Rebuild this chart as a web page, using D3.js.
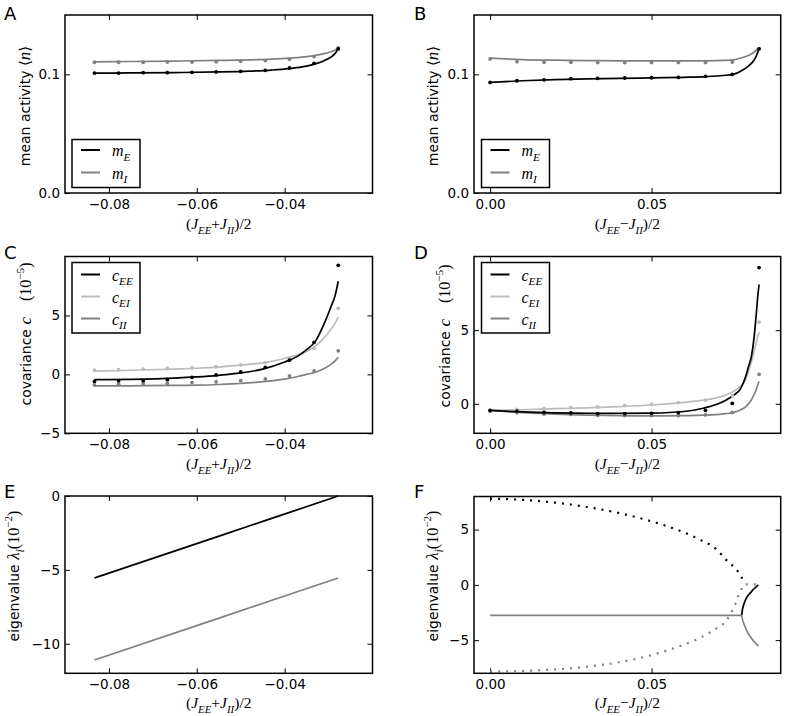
<!DOCTYPE html>
<html><head><meta charset="utf-8">
<script src="https://cdn.jsdelivr.net/npm/d3@7"></script>
<style>body{margin:0;background:#fff}</style>
</head><body><svg id="chart" width="786" height="716"></svg>
<script>
// ---------------- DATA ----------------
// Panel A (x = (J_EE+J_II)/2)
const A_simX = [-0.0833,-0.0778,-0.0722,-0.0667,-0.0611,-0.0556,-0.0500,-0.0444,-0.0389,-0.0333,-0.0278];
const A_mE_sim = [0.1011,0.1011,0.1014,0.1014,0.1017,0.1020,0.1025,0.1034,0.1054,0.1093,0.1215];
const A_mI_sim = [0.1102,0.1102,0.1102,0.1104,0.1104,0.1107,0.1110,0.1116,0.1127,0.1150,0.1222];
const A_thX = [-0.0833,-0.075,-0.065,-0.055,-0.048,-0.043,-0.039,-0.036,-0.033,-0.031,-0.0295,-0.0285,-0.0278];
const A_mE_th = [0.1010,0.1012,0.1015,0.1020,0.1027,0.1036,0.1048,0.1063,0.1088,0.1115,0.1145,0.1175,0.1218];
const A_mI_th = [0.1105,0.1108,0.1112,0.1117,0.1122,0.1128,0.1136,0.1145,0.1160,0.1174,0.1190,0.1205,0.1222];

// Panel B (x = (J_EE-J_II)/2)
const B_simX = [0,0.0083,0.0167,0.025,0.0333,0.0417,0.05,0.0583,0.0667,0.075,0.0833];
const B_mE_sim = [0.0932,0.0946,0.0954,0.0963,0.0966,0.0969,0.0971,0.0974,0.0983,0.1000,0.1215];
const B_mI_sim = [0.1130,0.1107,0.1102,0.1102,0.1099,0.1099,0.1099,0.1099,0.1099,0.1104,0.1215];
const B_thX = [0,0.01,0.02,0.03,0.04,0.05,0.06,0.067,0.072,0.0755,0.078,0.08,0.0815,0.0825,0.0833];
const B_mE_th = [0.0932,0.0946,0.0956,0.0962,0.0966,0.0970,0.0975,0.0981,0.0990,0.1002,0.1033,0.1070,0.1110,0.1158,0.1220];
const B_mI_th = [0.1136,0.1124,0.1119,0.1116,0.1114,0.1113,0.1113,0.1114,0.1117,0.1122,0.1140,0.1158,0.1182,0.1205,0.1222];

// Panel C (covariances, 1e-5)
const C_thX = [-0.0833,-0.075,-0.065,-0.06,-0.055,-0.05,-0.045,-0.04,-0.037,-0.035,-0.033,-0.031,-0.0295,-0.0285,-0.0278];
const C_cEE_th = [-0.45,-0.42,-0.32,-0.22,-0.08,0.12,0.45,1.05,1.55,2.1,2.8,4.3,5.7,6.7,7.9];
const C_cEI_th = [0.28,0.35,0.45,0.52,0.62,0.78,0.98,1.35,1.65,1.95,2.4,3.1,3.8,4.35,4.85];
const C_cII_th = [-0.98,-0.97,-0.94,-0.92,-0.86,-0.77,-0.62,-0.40,-0.18,0.0,0.18,0.5,0.85,1.15,1.45];
const C_cEE_sim = [-0.6,-0.55,-0.55,-0.45,-0.25,-0.05,0.2,0.6,1.2,2.72,9.25];
const C_cEI_sim = [0.35,0.4,0.45,0.5,0.55,0.65,0.8,1.0,1.4,2.2,5.6];
const C_cII_sim = [-0.9,-0.84,-0.8,-0.76,-0.7,-0.64,-0.53,-0.39,-0.14,0.29,2.0];

// Panel D
const D_thX = [0,0.01,0.02,0.03,0.04,0.05,0.06,0.066,0.07,0.073,0.0755,0.0775,0.079,0.08,0.081,0.0818,0.0824,0.0829,0.0833];
const D_cEE_th = [-0.45,-0.55,-0.61,-0.64,-0.65,-0.63,-0.52,-0.3,-0.05,0.25,0.6,1.0,1.75,2.5,3.3,4.6,6.0,7.3,8.1];
const D_cEI_th = [-0.45,-0.4,-0.33,-0.27,-0.19,-0.08,0.1,0.25,0.4,0.6,0.85,1.2,1.6,2.2,2.9,3.6,4.1,4.6,4.85];
const D_cII_th = [-0.45,-0.6,-0.7,-0.77,-0.81,-0.82,-0.8,-0.77,-0.73,-0.67,-0.58,-0.42,-0.22,0.0,0.3,0.65,0.95,1.3,1.5];
const D_cEE_sim = [-0.45,-0.5,-0.58,-0.62,-0.67,-0.67,-0.65,-0.6,-0.44,0.03,9.25];
const D_cEI_sim = [-0.45,-0.38,-0.32,-0.26,-0.2,-0.12,-0.03,0.08,0.25,0.55,5.55];
const D_cII_sim = [-0.5,-0.6,-0.69,-0.72,-0.78,-0.8,-0.8,-0.8,-0.75,-0.58,2.0];

// Panel E (eigenvalues, 1e-2)
const E_x = [-0.0833,-0.0556,-0.0278];
const E_l1 = [-5.55,-2.78,0.0];
const E_l2 = [-11.1,-8.33,-5.55];

// Panel F
const F_reX = [0,0.0779];
const F_re = [-2.75,-2.75];
const F_upX = [0.0779,0.0781,0.0784,0.0789,0.0794,0.0802,0.081,0.082,0.0831];
const F_up = [-2.75,-2.3,-1.93,-1.5,-1.17,-0.85,-0.58,-0.28,0.0];
const F_loX = [0.0779,0.0781,0.0784,0.0789,0.0796,0.0805,0.0818,0.0831];
const F_lo = [-2.75,-3.05,-3.35,-3.74,-4.2,-4.64,-5.15,-5.55];
const F_imPX = [0,0.01,0.02,0.03,0.04,0.05,0.06,0.065,0.07,0.073,0.0768,0.0778,0.0786];
const F_imP = [7.8,7.7,7.45,7.05,6.5,5.75,4.75,4.1,3.25,2.3,1.2,0.75,0.15];
const F_imNX = [0,0.01,0.02,0.03,0.04,0.05,0.06,0.065,0.07,0.073,0.0745,0.0758,0.0768,0.0778,0.0784,0.0795,0.081,0.0825];
const F_imN = [-7.85,-7.78,-7.65,-7.4,-7.0,-6.35,-5.4,-4.8,-3.95,-3.29,-2.6,-1.85,-1.05,-0.42,0.0,0.05,0.05,0.05];

// Ticks
const X_TICKS_SUM = [-0.08,-0.06,-0.04];
const X_TICKS_DIFF = [0,0.05];
const Y_TICKS_A = [0,0.1];
const Y_TICKS_C = [-5,0,5];
const Y_TICKS_D = [0,5];
const Y_TICKS_E = [-10,-5,0];
const Y_TICKS_F = [-5,0,5];

// ---------------- DRAWING ----------------
const BLACK = '#000000', GRAY = '#808080', LIGHT = '#bcbcbc';
const svg = d3.select('#chart');
const SANS = 'DejaVu Sans', SERIF = 'Liberation Serif';

function rich(sel, segs, base) {
  let shift = 0;
  segs.forEach(s => {
    const sz = s.size || base;
    const target = s.sub ? sz*0.3 : s.sup ? -sz*0.45 : 0;
    sel.append('tspan').text(s.t)
      .attr('dy', target - shift)
      .style('font-size', ((s.sub || s.sup) ? sz*0.7 : sz) + 'px')
      .style('font-family', s.f || SERIF)
      .style('font-style', s.i ? 'italic' : 'normal');
    shift = target;
  });
}

function makePanel(p) {
  const x = d3.scaleLinear().domain(p.xdom).range([p.L, p.R]);
  const y = d3.scaleLinear().domain(p.ydom).range([p.B, p.T]);
  const g = svg.append('g');
  const ax = (axis, tr) => g.append('g').attr('transform', tr).call(axis).call(s => s.select('.domain').remove());
  ax(d3.axisBottom(x).tickValues(p.xticks).tickFormat(d3.format(p.xfmt)).tickSize(-5).tickPadding(6), `translate(0,${p.B})`);
  ax(d3.axisTop(x).tickValues(p.xticks).tickFormat('').tickSize(-5), `translate(0,${p.T})`);
  ax(d3.axisLeft(y).tickValues(p.yticks).tickFormat(d3.format(p.yfmt)).tickSize(-5).tickPadding(5), `translate(${p.L},0)`);
  ax(d3.axisRight(y).tickValues(p.yticks).tickFormat('').tickSize(-5), `translate(${p.R},0)`);
  g.selectAll('.tick text').style('font-family', SANS).style('font-size', '13.5px').attr('fill', '#000');
  g.selectAll('.tick line').attr('stroke', '#000').attr('stroke-width', 1);
  const plot = g.append('g');
  const frame = () => g.append('rect').attr('x', p.L).attr('y', p.T).attr('width', p.R - p.L).attr('height', p.B - p.T)
    .attr('fill', 'none').attr('stroke', '#000').attr('stroke-width', 1.5);
  svg.append('text').attr('x', p.lx).attr('y', p.ly).text(p.letter)
    .style('font-family', SANS).style('font-size', '18px');
  const xl = svg.append('text').attr('x', (p.L + p.R) / 2).attr('y', p.xlY).attr('text-anchor', 'middle');
  rich(xl, p.xlabel, 15.5);
  const yl = svg.append('text').attr('transform', `translate(${p.ylX},${p.ylC}) rotate(-90)`).attr('text-anchor', 'middle');
  rich(yl, p.ylabel, 14);
  return {x, y, plot, g, frame};
}

function curve(P, xs, ys, color, opts = {}) {
  const line = d3.line().x(d => P.x(d[0])).y(d => P.y(d[1])).curve(d3.curveMonotoneX);
  const path = P.plot.append('path').datum(d3.zip(xs, ys)).attr('d', line)
    .attr('fill', 'none').attr('stroke', color).attr('stroke-width', opts.w || 1.7);
  if (opts.dash) path.attr('stroke-dasharray', opts.dash).attr('stroke-width', 2.2);
}
function dots(P, xs, ys, color) {
  P.plot.append('g').selectAll('circle').data(d3.zip(xs, ys)).join('circle')
    .attr('cx', d => P.x(d[0])).attr('cy', d => P.y(d[1])).attr('r', 1.9).attr('fill', color);
}
function legend(P, x0, y0, w, h, items) {
  const lg = P.g.append('g');
  lg.append('rect').attr('x', x0).attr('y', y0).attr('width', w).attr('height', h)
    .attr('fill', '#fff').attr('stroke', '#000').attr('stroke-width', 1.5);
  items.forEach(it => {
    lg.append('line').attr('x1', x0 + 9).attr('x2', x0 + 28).attr('y1', y0 + it.dy).attr('y2', y0 + it.dy)
      .attr('stroke', it.color).attr('stroke-width', 2);
    const t = lg.append('text').attr('x', x0 + 40).attr('y', y0 + it.dy + 6);
    rich(t, it.label, 16);
  });
}

const sumLabel = [{t:'('},{t:'J',i:1},{t:'EE',i:1,sub:1},{t:'+'},{t:'J',i:1},{t:'II',i:1,sub:1},{t:')/2'}];
const diffLabel = [{t:'('},{t:'J',i:1},{t:'EE',i:1,sub:1},{t:'−'},{t:'J',i:1},{t:'II',i:1,sub:1},{t:')/2'}];
const meanLabel = [{t:'mean activity ',f:SANS},{t:'⟨',f:'DejaVu Serif',size:15},{t:'n',i:1,size:17},{t:'⟩',f:'DejaVu Serif',size:15}];
const covLabel = [{t:'covariance ',f:SANS},{t:'c',i:1,size:17},{t:'\u2003(10',size:16},{t:'−5',sup:1,size:16},{t:')',size:16}];
const eigLabel = [{t:'eigenvalue ',f:SANS},{t:'λ',i:1,size:17},{t:'i',i:1,sub:1,size:17},{t:'(10',size:16},{t:'−2',sup:1,size:16},{t:')',size:16}];

const LEFT = {L:65, R:372.5, xdom:[-0.09,-0.02], xticks:X_TICKS_SUM, xfmt:'.2f', xlabel:sumLabel, lx:4};
const RIGHT = {L:474, R:780.7, xdom:[-0.005,0.09], xticks:X_TICKS_DIFF, xfmt:'.2f', xlabel:diffLabel, lx:414};

// A
const PA = makePanel({...LEFT, id:'A', T:15, B:193, ydom:[0,0.15], yticks:Y_TICKS_A, yfmt:'.1f',
  letter:'A', ly:19.5, xlY:229, ylX:30, ylC:106, ylabel:meanLabel});
curve(PA, A_thX, A_mI_th, GRAY); curve(PA, A_thX, A_mE_th, BLACK);
dots(PA, A_simX, A_mI_sim, GRAY); dots(PA, A_simX, A_mE_sim, BLACK);
PA.frame();
legend(PA, 72, 139.5, 68, 48, [{dy:10.5, color:BLACK, label:[{t:'m',i:1},{t:'E',i:1,sub:1}]},
                               {dy:33, color:GRAY, label:[{t:'m',i:1},{t:'I',i:1,sub:1}]}]);

// B
const PB = makePanel({...RIGHT, id:'B', T:15, B:193, ydom:[0,0.15], yticks:Y_TICKS_A, yfmt:'.1f',
  letter:'B', ly:19.5, xlY:229, ylX:438, ylC:106, ylabel:meanLabel});
curve(PB, B_thX, B_mI_th, GRAY); curve(PB, B_thX, B_mE_th, BLACK);
dots(PB, B_simX, B_mI_sim, GRAY); dots(PB, B_simX, B_mE_sim, BLACK);
PB.frame();
legend(PB, 481.5, 139.5, 68, 48, [{dy:10.5, color:BLACK, label:[{t:'m',i:1},{t:'E',i:1,sub:1}]},
                                  {dy:33, color:GRAY, label:[{t:'m',i:1},{t:'I',i:1,sub:1}]}]);

// C
const PC = makePanel({...LEFT, id:'C', T:256.5, B:433.3, ydom:[-5,10], yticks:Y_TICKS_C, yfmt:'d',
  letter:'C', ly:258.5, xlY:469, ylX:31, ylC:334, ylabel:covLabel});
curve(PC, C_thX, C_cII_th, GRAY); curve(PC, C_thX, C_cEI_th, LIGHT); curve(PC, C_thX, C_cEE_th, BLACK);
dots(PC, A_simX, C_cII_sim, GRAY); dots(PC, A_simX, C_cEI_sim, LIGHT); dots(PC, A_simX, C_cEE_sim, BLACK);
PC.frame();
const covItems = [{dy:12, color:BLACK, label:[{t:'c',i:1},{t:'EE',i:1,sub:1}]},
                  {dy:34, color:LIGHT, label:[{t:'c',i:1},{t:'EI',i:1,sub:1}]},
                  {dy:56, color:GRAY, label:[{t:'c',i:1},{t:'II',i:1,sub:1}]}];
legend(PC, 72, 262.5, 68, 70.5, covItems);

// D
const PD = makePanel({...RIGHT, id:'D', T:256.5, B:433.3, ydom:[-2,10], yticks:Y_TICKS_D, yfmt:'d',
  letter:'D', ly:259, xlY:469, ylX:450, ylC:336, ylabel:covLabel});
curve(PD, D_thX, D_cII_th, GRAY); curve(PD, D_thX, D_cEI_th, LIGHT); curve(PD, D_thX, D_cEE_th, BLACK);
dots(PD, B_simX, D_cII_sim, GRAY); dots(PD, B_simX, D_cEI_sim, LIGHT); dots(PD, B_simX, D_cEE_sim, BLACK);
PD.frame();
legend(PD, 481.5, 262.5, 68, 70.5, covItems);

// E
const PE = makePanel({...LEFT, id:'E', T:496, B:673.3, ydom:[-12,0], yticks:Y_TICKS_E, yfmt:'d',
  letter:'E', ly:498, xlY:708, ylX:19, ylC:576, ylabel:eigLabel});
curve(PE, E_x, E_l1, BLACK); curve(PE, E_x, E_l2, GRAY);
PE.frame();

// F
const PF = makePanel({...RIGHT, id:'F', T:496.5, B:673.3, ydom:[-8,8], yticks:Y_TICKS_F, yfmt:'d',
  letter:'F', ly:498, xlY:708, ylX:438, ylC:576, ylabel:eigLabel});
curve(PF, F_imNX, F_imN, GRAY, {dash:'2,6'});
curve(PF, F_imPX, F_imP, BLACK, {dash:'2,6'});
curve(PF, F_upX, F_up, BLACK);
curve(PF, F_loX, F_lo, GRAY);
curve(PF, F_reX, F_re, GRAY);
PF.frame();
</script></body></html>
